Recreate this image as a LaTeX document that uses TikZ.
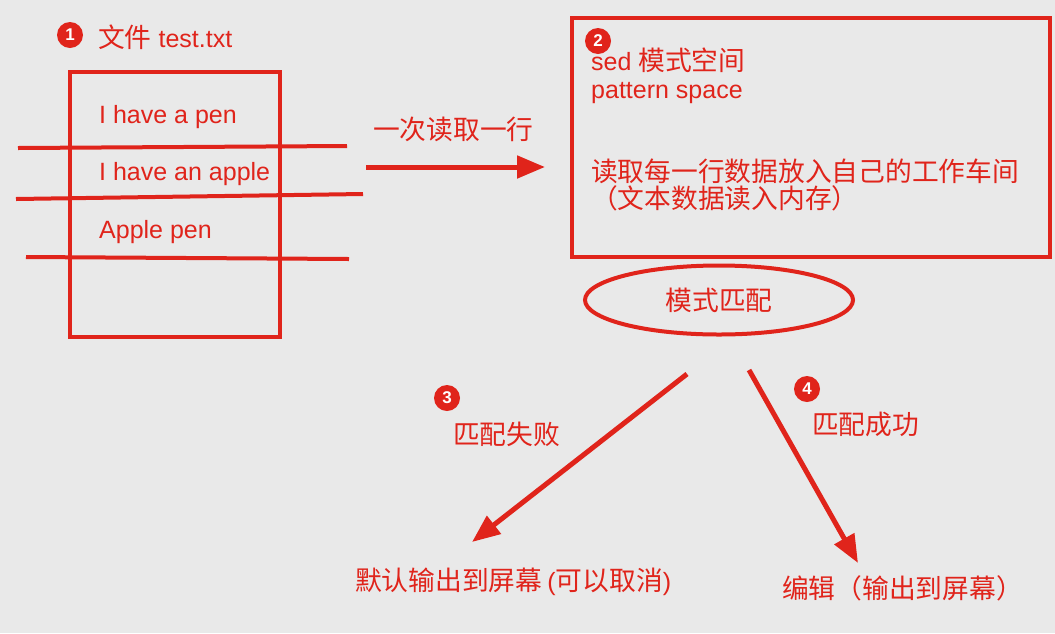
\documentclass[tikz,border=0pt]{standalone}
\usepackage{fontspec}
\setmainfont{Liberation Sans}
\newfontfamily\cjk[Scale=1.07]{Noto Sans CJK SC}
\usetikzlibrary{arrows.meta,shapes.geometric}
\definecolor{sedred}{HTML}{E0241B}
\definecolor{slidebg}{HTML}{E9E9E9}

\begin{document}
\begin{tikzpicture}[x=1pt, y=-1pt, >={Triangle[length=28pt,width=22pt]},
  lbl/.style={text=sedred, font=\fontsize{25}{30}\selectfont, inner sep=0pt, anchor=base west},
  badge/.style={circle, fill=sedred, text=white, minimum size=26pt, inner sep=0pt, font=\fontsize{17}{17}\selectfont\bfseries},
  frame/.style={rectangle, draw=sedred, line width=4pt, inner sep=0pt},
  strike/.style={draw=sedred, line width=4pt},
  flow/.style={->, draw=sedred, line width=5pt}
]
\fill[slidebg] (0,0) rectangle (1055,633);

\node[badge] (b1) at (70,35) {1};
\node[lbl] (fname) at (98,47) {{\cjk 文件} test.txt};
\node[frame, minimum width=210pt, minimum height=265pt] (file) at (175,204.5) {};
\node[lbl] (l1) at (99,123) {I have a pen};
\node[lbl] (l2) at (99,180) {I have an apple};
\node[lbl] (l3) at (99,238) {Apple pen};
\coordinate (s1a) at (18,148);  \coordinate (s1b) at (347,146);
\coordinate (s2a) at (16,199);  \coordinate (s2b) at (363,194);
\coordinate (s3a) at (26,257);  \coordinate (s3b) at (349,259);
\draw[strike] (s1a) -- (s1b);
\draw[strike] (s2a) -- (s2b);
\draw[strike] (s3a) -- (s3b);

\coordinate (readL) at (366,167);
\coordinate (readR) at (545,167);
\draw[flow] (readL) -- (readR);
\node[lbl] (read) at (373,139) {\cjk 一次读取一行};

\node[frame, minimum width=478pt, minimum height=239pt] (space) at (811,137.5) {};
\node[badge] (b2) at (598,41) {2};
\node[lbl] (sed) at (591,70) {sed {\cjk 模式空间}};
\node[lbl] (pat) at (591,98) {pattern space};
\node[lbl] (each) at (591,181) {\cjk 读取每一行数据放入自己的工作车间};
\node[lbl] (mem) at (591,208) {\cjk （文本数据读入内存）};

\node[ellipse, draw=sedred, line width=4pt, text=sedred, minimum width=268pt, minimum height=69pt,
  font=\fontsize{25}{30}\selectfont\cjk] (match) at (719,300) {模式匹配};

\coordinate (failA) at (687,374);
\coordinate (failB) at (472,542);
\coordinate (okA) at (749,370);
\coordinate (okB) at (858,563);
\draw[flow] (failA) -- (failB);
\draw[flow] (okA) -- (okB);

\node[badge] (b3) at (447,398) {3};
\node[lbl] (fail) at (453,444) {\cjk 匹配失败};
\node[badge] (b4) at (807,389) {4};
\node[lbl] (ok) at (812,434) {\cjk 匹配成功};
\node[lbl] (dflt) at (355,590) {{\cjk 默认输出到屏幕}\hspace{5pt}({\cjk 可以取消})};
\node[lbl] (edit) at (782,598) {\cjk 编辑（输出到屏幕）};
\end{tikzpicture}
\end{document}
